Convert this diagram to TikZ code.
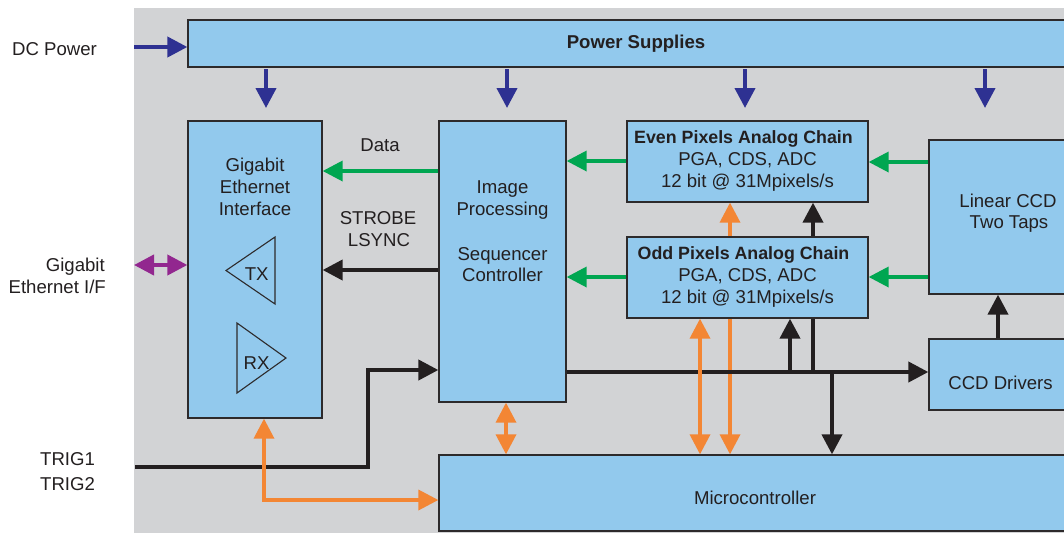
\documentclass[tikz,border=0pt]{standalone}
\usepackage{fontspec}
\setmainfont{Liberation Sans}
\usetikzlibrary{arrows.meta,calc}
\definecolor{bgc}{RGB}{210,211,213}
\definecolor{boxc}{RGB}{146,201,237}
\definecolor{bordc}{RGB}{45,42,43}
\definecolor{txtc}{RGB}{35,31,32}
\definecolor{pwrc}{RGB}{46,49,146}
\definecolor{grnc}{RGB}{0,166,81}
\definecolor{purc}{RGB}{146,39,143}
\definecolor{orgc}{RGB}{243,134,52}
\definecolor{blkc}{RGB}{35,31,32}
\pgfdeclarelayer{bgl}
\pgfdeclarelayer{behind}
\pgfsetlayers{bgl,behind,main}
\begin{document}
\begin{tikzpicture}[x=1pt,y=-1pt,
  box/.style={draw=bordc, fill=boxc, line width=1.3pt, inner sep=0pt, rectangle},
  txt/.style={text=txtc, font=\fontsize{18.6}{22}\selectfont, inner sep=0pt, anchor=base},
  btxt/.style={txt, font=\fontsize{18.6}{22}\selectfont\bfseries},
  ctxt/.style={txt, font=\fontsize{17.8}{22}\selectfont\bfseries},
  tipend/.style={-{Triangle[width=20pt,length=20pt]}},
  tipboth/.style={{Triangle[width=20pt,length=20pt]}-{Triangle[width=20pt,length=20pt]}},
  pwr/.style={tipend, draw=pwrc, line width=4pt},
  grn/.style={tipend, draw=grnc, line width=3.5pt},
  blk/.style={draw=blkc, line width=4pt},
  blka/.style={tipend, blk},
  pur/.style={tipboth, draw=purc, line width=4pt},
  org/.style={tipboth, draw=orgc, line width=3.5pt},
  tri/.style={draw=bordc, line width=1.1pt, line join=miter}
]
\useasboundingbox (0,0) rectangle (1064,533);
\begin{pgfonlayer}{bgl}
  \fill[white] (0,0) rectangle (1064,533);
  \fill[bgc] (134,8) rectangle (1064,533);
\end{pgfonlayer}

% boxes
\node[box, minimum width=882pt, minimum height=47pt] (ps) at (629,43.5) {};
\node[box, minimum width=134pt, minimum height=297pt] (geth) at (255,269.5) {};
\node[box, minimum width=127pt, minimum height=281pt] (img) at (502.5,261.5) {};
\node[box, minimum width=241pt, minimum height=81pt] (even) at (747.5,161.5) {};
\node[box, minimum width=241pt, minimum height=81pt] (odd) at (747.5,277.5) {};
\node[box, minimum width=141pt, minimum height=154pt] (lin) at (999.5,217) {};
\node[box, minimum width=141pt, minimum height=71pt] (ccdd) at (999.5,374.5) {};
\node[box, minimum width=631pt, minimum height=76pt] (micro) at (754.5,493) {};

% TX / RX triangles
\draw[tri] (275,237) -- (226,270.5) -- (275,304) -- cycle;
\draw[tri] (237,323) -- (286,358) -- (237,393) -- cycle;

% texts
\node[txt, anchor=base west] (tdc) at (12,55) {DC Power};
\node[btxt] (tps) at (636,48.3) {Power Supplies};
\node[txt, anchor=base east] (tge1) at (105,271) {Gigabit};
\node[txt, anchor=base east] (tge2) at (106,293.3) {Ethernet I/F};
\node[txt, anchor=base west] (ttr1) at (40,465) {TRIG1};
\node[txt, anchor=base west] (ttr2) at (40,490) {TRIG2};
\node[txt] (tg1) at (255,171.7) {Gigabit};
\node[txt] (tg2) at (255,193.3) {Ethernet};
\node[txt] (tg3) at (255,215) {Interface};
\node[txt] (ttx) at (256.7,280.7) {TX};
\node[txt] (trx) at (256.5,369) {RX};
\node[txt] (tdata) at (380,151.7) {Data};
\node[txt] (tstr) at (378,224) {STROBE};
\node[txt] (tls) at (379,246.7) {LSYNC};
\node[txt] (ti1) at (502.5,193.3) {Image};
\node[txt] (ti2) at (502.5,215) {Processing};
\node[txt] (ti3) at (502.5,260) {Sequencer};
\node[txt] (ti4) at (502.5,281.5) {Controller};
\node[ctxt] (te1) at (743.5,143.3) {Even Pixels Analog Chain};
\node[txt] (te2) at (747.5,165.7) {PGA, CDS, ADC};
\node[txt] (te3) at (747.5,187.7) {12 bit @ 31Mpixels/s};
\node[ctxt] (to1) at (743.5,259.3) {Odd Pixels Analog Chain};
\node[txt] (to2) at (747.5,281.7) {PGA, CDS, ADC};
\node[txt] (to3) at (747.5,303.3) {12 bit @ 31Mpixels/s};
\node[txt] (tl1) at (1008,207.3) {Linear CCD};
\node[txt] (tl2) at (1009,228.3) {Two Taps};
\node[txt] (tcd) at (1000.5,389.3) {CCD Drivers};
\node[txt] (tmc) at (755,504) {Microcontroller};

% helper coordinates
\coordinate (pa1) at (266,108);
\coordinate (pa2) at (507,108);
\coordinate (pa3) at (745,108);
\coordinate (pa4) at (985,108);
\coordinate (dcin) at (134,47);
\coordinate (gein) at (134,265);
\coordinate (gd) at (0,171);
\coordinate (ge) at (0,161);
\coordinate (gl) at (0,162);
\coordinate (go) at (0,277);
\coordinate (ks) at (0,270);
\coordinate (trig) at (135,467);
\coordinate (tc) at (368,370);
\coordinate (bus) at (0,372);
\coordinate (b1) at (790,372);
\coordinate (b2) at (813,372);
\coordinate (b3) at (832,372);
\coordinate (b4) at (998,0);
\coordinate (o1) at (264,500);
\coordinate (o2) at (506,0);
\coordinate (o3) at (700,0);
\coordinate (o4) at (730,0);

% power
\foreach \c in {pa1,pa2,pa3,pa4} \draw[pwr, shorten <=1.5pt] (ps.south -| \c) -- (\c);
\draw[pwr] (dcin) -- (dcin -| ps.west);
% gigabit I/F
\draw[pur] (gein) -- (gein -| geth.west);
% green data
\draw[grn] (gd -| img.west) -- (gd -| geth.east);
\draw[grn] (ge -| even.west) -- (ge -| img.east);
\draw[grn] (gl -| lin.west) -- (gl -| even.east);
\draw[grn] (go -| odd.west) -- (go -| img.east);
\draw[grn] (go -| lin.west) -- (go -| odd.east);
% black
\draw[blka] (ks -| img.west) -- (ks -| geth.east);
\draw[blka] (trig) -- (trig -| tc) -- (tc) -- (tc -| img.west);
\draw[blka] (bus -| img.east) -- (bus -| ccdd.west);
\draw[blka] (b1) -- (b1 |- odd.south);
\draw[blka] (b3) -- (b3 |- micro.north);
\draw[blka] (b4 |- ccdd.north) -- (b4 |- lin.south);
% orange
\draw[org] (o1 |- geth.south) -- (o1) -- (o1 -| micro.west);
\draw[org] (o2 |- img.south) -- (o2 |- micro.north);
\draw[org] (o3 |- odd.south) -- (o3 |- micro.north);
\begin{pgfonlayer}{behind}
  \draw[blka] (b2) -- (b2 |- even.south);
  \draw[org] (o4 |- even.south) -- (o4 |- micro.north);
\end{pgfonlayer}
\end{tikzpicture}
\end{document}
